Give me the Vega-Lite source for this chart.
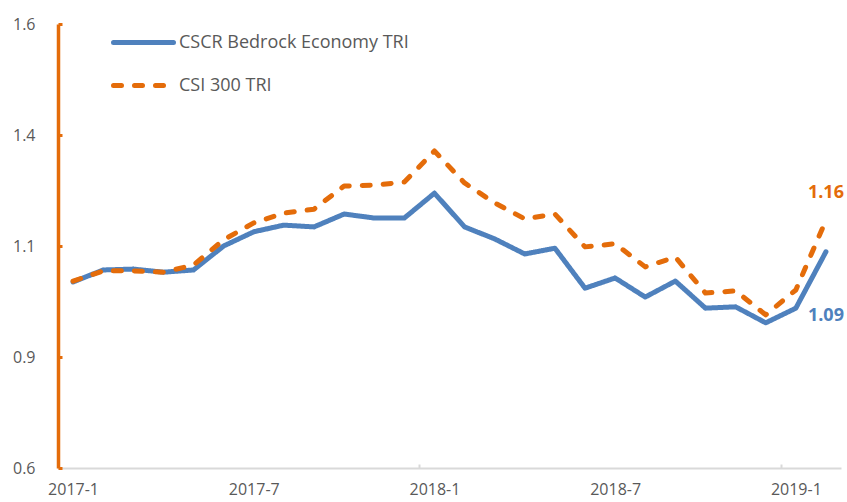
{
  "$schema": "https://vega.github.io/schema/vega-lite/v6.json",
  "width": 783,
  "height": 444,
  "autosize": {"type": "none"},
  "padding": {"left": 58, "top": 24, "right": 6, "bottom": 34},
  "background": "white",
  "config": {
    "view": {"stroke": null},
    "font": "Open Sans",
    "axis": {"labelFont": "Open Sans", "labelFontSize": 16, "labelColor": "#595959", "grid": false, "title": null},
    "legend": {"labelFont": "Open Sans", "labelFontSize": 18, "labelColor": "#595959"}
  },
  "data": {
    "values": [
      {"month": "2017-1", "series": "CSCR Bedrock Economy TRI", "value": 1.019},
      {"month": "2017-2", "series": "CSCR Bedrock Economy TRI", "value": 1.046},
      {"month": "2017-3", "series": "CSCR Bedrock Economy TRI", "value": 1.048},
      {"month": "2017-4", "series": "CSCR Bedrock Economy TRI", "value": 1.041},
      {"month": "2017-5", "series": "CSCR Bedrock Economy TRI", "value": 1.046},
      {"month": "2017-6", "series": "CSCR Bedrock Economy TRI", "value": 1.100},
      {"month": "2017-7", "series": "CSCR Bedrock Economy TRI", "value": 1.132},
      {"month": "2017-8", "series": "CSCR Bedrock Economy TRI", "value": 1.147},
      {"month": "2017-9", "series": "CSCR Bedrock Economy TRI", "value": 1.143},
      {"month": "2017-10", "series": "CSCR Bedrock Economy TRI", "value": 1.172},
      {"month": "2017-11", "series": "CSCR Bedrock Economy TRI", "value": 1.163},
      {"month": "2017-12", "series": "CSCR Bedrock Economy TRI", "value": 1.163},
      {"month": "2018-1", "series": "CSCR Bedrock Economy TRI", "value": 1.219},
      {"month": "2018-2", "series": "CSCR Bedrock Economy TRI", "value": 1.143},
      {"month": "2018-3", "series": "CSCR Bedrock Economy TRI", "value": 1.116},
      {"month": "2018-4", "series": "CSCR Bedrock Economy TRI", "value": 1.082},
      {"month": "2018-5", "series": "CSCR Bedrock Economy TRI", "value": 1.095},
      {"month": "2018-6", "series": "CSCR Bedrock Economy TRI", "value": 1.005},
      {"month": "2018-7", "series": "CSCR Bedrock Economy TRI", "value": 1.028},
      {"month": "2018-8", "series": "CSCR Bedrock Economy TRI", "value": 0.985},
      {"month": "2018-9", "series": "CSCR Bedrock Economy TRI", "value": 1.021},
      {"month": "2018-10", "series": "CSCR Bedrock Economy TRI", "value": 0.960},
      {"month": "2018-11", "series": "CSCR Bedrock Economy TRI", "value": 0.963},
      {"month": "2018-12", "series": "CSCR Bedrock Economy TRI", "value": 0.927},
      {"month": "2019-1", "series": "CSCR Bedrock Economy TRI", "value": 0.960},
      {"month": "2019-2", "series": "CSCR Bedrock Economy TRI", "value": 1.087},
      {"month": "2017-1", "series": "CSI 300 TRI", "value": 1.021},
      {"month": "2017-2", "series": "CSI 300 TRI", "value": 1.044},
      {"month": "2017-3", "series": "CSI 300 TRI", "value": 1.044},
      {"month": "2017-4", "series": "CSI 300 TRI", "value": 1.041},
      {"month": "2017-5", "series": "CSI 300 TRI", "value": 1.057},
      {"month": "2017-6", "series": "CSI 300 TRI", "value": 1.114},
      {"month": "2017-7", "series": "CSI 300 TRI", "value": 1.152},
      {"month": "2017-8", "series": "CSI 300 TRI", "value": 1.174},
      {"month": "2017-9", "series": "CSI 300 TRI", "value": 1.183},
      {"month": "2017-10", "series": "CSI 300 TRI", "value": 1.235},
      {"month": "2017-11", "series": "CSI 300 TRI", "value": 1.237},
      {"month": "2017-12", "series": "CSI 300 TRI", "value": 1.244},
      {"month": "2018-1", "series": "CSI 300 TRI", "value": 1.314},
      {"month": "2018-2", "series": "CSI 300 TRI", "value": 1.242},
      {"month": "2018-3", "series": "CSI 300 TRI", "value": 1.197},
      {"month": "2018-4", "series": "CSI 300 TRI", "value": 1.161},
      {"month": "2018-5", "series": "CSI 300 TRI", "value": 1.172},
      {"month": "2018-6", "series": "CSI 300 TRI", "value": 1.098},
      {"month": "2018-7", "series": "CSI 300 TRI", "value": 1.105},
      {"month": "2018-8", "series": "CSI 300 TRI", "value": 1.053},
      {"month": "2018-9", "series": "CSI 300 TRI", "value": 1.075},
      {"month": "2018-10", "series": "CSI 300 TRI", "value": 0.994},
      {"month": "2018-11", "series": "CSI 300 TRI", "value": 0.999},
      {"month": "2018-12", "series": "CSI 300 TRI", "value": 0.945},
      {"month": "2019-1", "series": "CSI 300 TRI", "value": 1.001},
      {"month": "2019-2", "series": "CSI 300 TRI", "value": 1.158}
    ]
  },
  "encoding": {
    "x": {
      "field": "month",
      "type": "ordinal",
      "sort": null,
      "scale": {"type": "band", "paddingInner": 0, "paddingOuter": 0},
      "axis": {
        "labelAngle": 0,
        "labelOverlap": false,
        "labelExpr": "test(/-(1|7)$/, datum.value) ? datum.value : ''",
        "tickBand": "extent",
        "tickSize": -4,
        "tickWidth": 2,
        "tickColor": "#D9D9D9",
        "tickOpacity": {"condition": {"test": "test(/-12$/, datum.value)", "value": 1}, "value": 0},
        "domainColor": "#D9D9D9",
        "domainWidth": 2,
        "labelPadding": 17
      }
    },
    "y": {
      "field": "value",
      "type": "quantitative",
      "scale": {"domain": [0.6, 1.6], "nice": false, "zero": false},
      "axis": {
        "values": [0.6, 0.85, 1.1, 1.35, 1.6],
        "labelExpr": "format(round(datum.value * 10 + 0.001) / 10, '.1f')",
        "domainColor": "#E46C0A",
        "domainWidth": 3.5,
        "tickColor": "#E46C0A",
        "tickWidth": 3,
        "tickSize": -4,
        "labelPadding": 27
      }
    }
  },
  "layer": [
    {
      "mark": {"type": "line", "strokeWidth": 5, "strokeCap": "round", "strokeJoin": "round"},
      "encoding": {
        "color": {
          "field": "series",
          "type": "nominal",
          "scale": {"domain": ["CSCR Bedrock Economy TRI", "CSI 300 TRI"], "range": ["#4F81BD", "#E46C0A"]},
          "legend": {
            "title": null,
            "orient": "none",
            "legendX": 53,
            "legendY": -14,
            "direction": "vertical",
            "symbolType": "stroke",
            "symbolSize": 3600,
            "symbolStrokeWidth": 5,
            "labelOffset": 3,
            "labelLimit": 0,
            "rowPadding": -4,
            "padding": 0,
            "encode": {"symbols": {"update": {"strokeCap": {"value": "round"}}}}
          }
        },
        "strokeDash": {
          "field": "series",
          "type": "nominal",
          "scale": {"domain": ["CSCR Bedrock Economy TRI", "CSI 300 TRI"], "range": [[1, 0], [8, 13]]},
          "legend": {
            "title": null,
            "orient": "none",
            "legendX": 53,
            "legendY": -14,
            "direction": "vertical",
            "symbolType": "stroke",
            "symbolSize": 3600,
            "symbolStrokeWidth": 5,
            "labelOffset": 3,
            "labelLimit": 0,
            "rowPadding": -4,
            "padding": 0,
            "encode": {"symbols": {"update": {"strokeCap": {"value": "round"}}}}
          }
        }
      }
    },
    {
      "transform": [{"filter": "datum.month == '2019-2' && datum.series == 'CSI 300 TRI'"}],
      "mark": {"type": "text", "fontSize": 18, "fontWeight": "bold", "dy": -27, "color": "#E46C0A", "font": "Open Sans"},
      "encoding": {"text": {"field": "value", "type": "quantitative", "format": ".2f"}}
    },
    {
      "transform": [{"filter": "datum.month == '2019-2' && datum.series == 'CSCR Bedrock Economy TRI'"}],
      "mark": {"type": "text", "fontSize": 18, "fontWeight": "bold", "dy": 64, "color": "#4F81BD", "font": "Open Sans"},
      "encoding": {"text": {"field": "value", "type": "quantitative", "format": ".2f"}}
    }
  ]
}
